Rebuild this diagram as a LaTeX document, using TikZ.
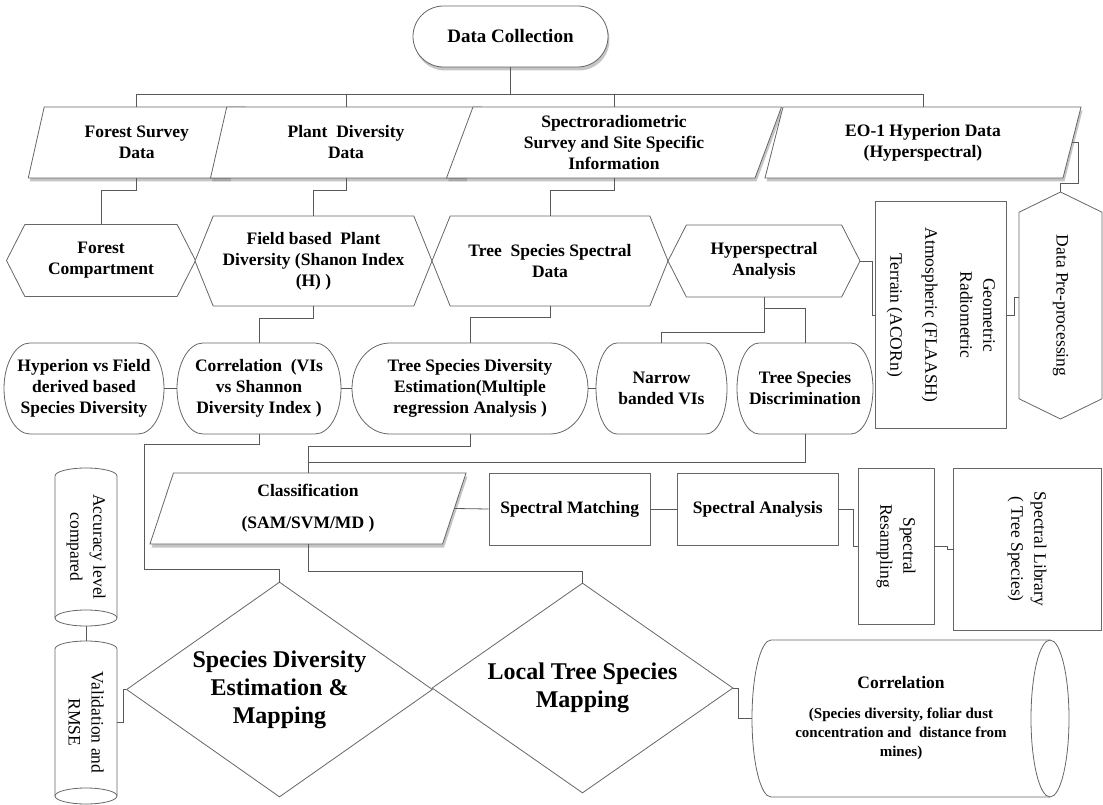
\documentclass[tikz,border=0pt]{standalone}
\usepackage{fontspec}
\setmainfont{Liberation Serif}
\usepackage{tikz}
\usetikzlibrary{calc,shapes.geometric,shapes.misc,shapes.symbols,shadows}

\begin{document}
\begin{tikzpicture}[x=1pt, y=-1pt,
      every node/.style={font=\fontsize{17.5}{21}\selectfont\bfseries, align=center, inner sep=0pt},
      vtext/.style={font=\fontsize{17.5}{23}\selectfont},
      edge/.style={draw=black!60, line width=0.8pt},
      conn/.style={draw=black!65, line width=0.8pt},
      dropshade/.style={drop shadow={shadow xshift=1.5pt, shadow yshift=-3.5pt, fill=black!45, opacity=0.5}},
      term/.style={rounded rectangle, edge, fill=white},
      para/.style={trapezium, trapezium left angle=64, trapezium right angle=116, trapezium stretches body, edge, fill=white, minimum height=71pt, dropshade},
      hexa/.style={signal, signal to=east and west, edge, fill=white},
      box/.style={rectangle, edge, fill=white},
      stad/.style={rectangle, outer sep=0pt, minimum height=91pt},
      dia/.style={diamond, aspect=1.5, edge, fill=white, font=\fontsize{24}{28}\selectfont\bfseries},
      drum/.style={rectangle, outer sep=0pt}]
      \useasboundingbox (0, 0) rectangle (1103, 805);
      \node[term, minimum width=195pt, minimum height=61pt, dropshade, font=\fontsize{19}{23}\selectfont\bfseries] (dc) at (510.5, 36.5) {Data Collection};
      \node[para, minimum width=217pt] (fsd) at (136.75, 142.5) {Forest Survey\\Data};
      \node[para, minimum width=271pt] (pdd) at (346, 142.5) {Plant~ Diversity\\Data};
      \node[para, minimum width=335pt] (ssd) at (614, 142.5) {Spectroradiometric\\Survey and Site Specific\\Information};
      \node[para, minimum width=316pt] (eod) at (923, 142.5) {EO-1 Hyperion Data\\(Hyperspectral)};
      \node[hexa, signal pointer angle=126, minimum width=189pt, minimum height=72pt] (fcp) at (101, 260.5) {Forest\\Compartment};
      \node[hexa, signal pointer angle=136, minimum width=237pt, minimum height=90pt] (fbp) at (313.5, 261) {Field based~ Plant\\Diversity (Shanon Index\\(H) )};
      \node[hexa, signal pointer angle=136, minimum width=236pt, minimum height=90pt] (tss) at (550, 261) {Tree~ Species Spectral\\Data};
      \node[hexa, signal pointer angle=126, minimum width=192pt, minimum height=72pt] (hya) at (764, 261) {Hyperspectral\\Analysis};
      \node[box, vtext, rotate=-90, minimum width=227pt, minimum height=131.5pt] (geo) at (940.75, 315) {Geometric\\Radiometric\\[12pt]Atmospheric (FLAASH)\\[12pt]Terrain (ACORn)};
      \node[hexa, signal pointer angle=128, vtext, rotate=-90, minimum width=227pt, minimum height=83pt] (dpp) at (1060.5, 305.5) {Data Pre-processing};
      \node[stad, minimum width=160pt] (hvf) at (84, 388.5) {Hyperion vs Field\\derived based\\Species Diversity};
      \node[stad, minimum width=164pt] (cvs) at (259, 388.5) {Correlation~ (VIs\\vs Shannon\\Diversity Index )};
      \node[stad, minimum width=236pt] (tsd) at (470, 388.5) {Tree Species Diversity\\Estimation(Multiple\\regression Analysis )};
      \node[stad, minimum width=131pt] (nbv) at (661.5, 388.5) {Narrow\\banded VIs};
      \node[stad, minimum width=136pt] (tsdc) at (805, 388.5) {Tree Species\\Discrimination};
      \foreach \n/\r in {hvf/26pt, cvs/26pt, tsd/38pt, nbv/21pt, tsdc/22pt}
        \draw[edge] ($(\n.north west)+(\r,0)$) -- ($(\n.north east)-(\r,0)$) arc[start angle=90, end angle=-90, x radius=\r, y radius=45.5pt] -- ($(\n.south west)+(\r,0)$) arc[start angle=270, end angle=90, x radius=\r, y radius=45.5pt] -- cycle;
      \node[para, minimum width=316pt] (cls) at (308, 508.5) {Classification\\[11pt](SAM/SVM/MD )};
      \node[box, minimum width=161.5pt, minimum height=72pt] (smt) at (569.75, 509) {Spectral Matching};
      \node[box, minimum width=161.5pt, minimum height=72pt] (san) at (757.75, 509) {Spectral Analysis};
      \node[box, vtext, rotate=-90, minimum width=156pt, minimum height=76pt] (srs) at (896, 546) {Spectral\\Resampling};
      \node[box, vtext, rotate=-90, minimum width=162pt, minimum height=148pt] (slb) at (1027, 549) {Spectral Library\\( Tree Species)};
      \node[drum, vtext, rotate=-90, minimum width=158pt, minimum height=62pt] (acc) at (86, 547) {Accuracy level\\compared};
      \node[drum, vtext, rotate=-90, minimum width=163pt, minimum height=62pt] (vrm) at (86, 722.5) {Validation and\\RMSE};
      \foreach \n in {acc, vrm} {
        \draw[edge] ($(\n.south |- \n.west)+(0, 8)$) arc[start angle=180, end angle=0, x radius=31pt, y radius=8pt] -- ($(\n.north |- \n.east)+(0, -8)$) arc[start angle=0, end angle=-180, x radius=31pt, y radius=8pt] -- cycle;
        \draw[edge] ($(\n.north |- \n.east)+(0, -8)$) arc[start angle=0, end angle=180, x radius=31pt, y radius=8pt];
      }
      \node[dia, minimum width=306pt, minimum height=215pt] (sde) at (279.5, 689.5) {Species Diversity\\Estimation \&\\Mapping};
      \node[dia, minimum width=301pt, minimum height=210pt] (ltm) at (582.5, 688) {Local Tree Species\\Mapping};
      \node[drum, font=\fontsize{15}{19}\selectfont\bfseries, minimum width=298pt, minimum height=157pt] (cor) at (901, 718.5) {{\fontsize{17.5}{21}\selectfont Correlation}\\[11pt](Species diversity, foliar dust\\concentration and~ distance from\\mines)};
      \draw[edge] ($(cor.north west)+(19, 0)$) -- (cor.north east) arc[start angle=90, end angle=-90, x radius=19pt, y radius=78.5pt] -- ($(cor.south west)+(19, 0)$) arc[start angle=270, end angle=90, x radius=19pt, y radius=78.5pt] -- cycle;
      \draw[edge] (cor.north east) arc[start angle=90, end angle=270, x radius=19pt, y radius=78.5pt];
      \draw[conn] (dc.south) -- ++(0, 27) coordinate (b1);
      \draw[conn] (fsd.north -| fsd.center) |- (b1) -| (eod.north -| eod.center);
      \draw[conn] (pdd.north -| pdd.center) -- (pdd.center |- b1);
      \draw[conn] (ssd.north -| ssd.center) -- (ssd.center |- b1);
      \draw[conn] (fsd.south -| fsd.center) -- ++(0, 12) -| (fcp.north);
      \draw[conn] (pdd.south -| pdd.center) -- ++(0, 12) -| (fbp.north);
      \draw[conn] (ssd.south -| ssd.center) -- ++(0, 12) -| (tss.north);
      \draw[conn] (eod.east) -- ++(6, 0) |- ($(dpp.west)+(0, -8)$) -- (dpp.west);
      \draw[conn] (fbp.south) -- ++(0, 12) -| (cvs.north);
      \draw[conn] (tss.south) -- ++(0, 11) -| (tsd.north);
      \draw[conn] (hya.south) -- ++(0, 11) coordinate (h1) -| (tsdc.north);
      \draw[conn] (h1) -- ++(0, 24) -| (nbv.north);
      \draw[conn] (hya.east) -- ++(12, 0) |- (geo.south);
      \draw[conn] (geo.north) -- ++(7, 0) |- ($(dpp.south)+(0, -8)$);
      \draw[conn] (hvf.east) -- (cvs.west);
      \draw[conn] (cvs.east) -- (tsd.west);
      \draw[conn] (tsd.east) -- (nbv.west);
      \draw[conn] (cvs.south) -- ++(0, 10) -| ++(-115, 125) -| (sde.north);
      \draw[conn] (tsd.south) -- ++(0, 12) -| (cls.north -| cls.center);
      \draw[conn] (tsdc.south) -- ++(0, 28) -| (cls.north -| cls.center);
      \draw[conn] (cls.east) -- (smt.west);
      \draw[conn] (smt.east) -- (san.west);
      \draw[conn] (san.east) -- ++(14, 0) |- (srs.south);
      \draw[conn] (srs.north) -- ++(13, 0) |- (slb.south);
      \draw[conn] (cls.south -| cls.center) -- ++(0, 27) -| (ltm.north);
      \draw[conn] (sde.west) -- ++(-3, 0) |- (vrm.north);
      \draw[conn] (acc.east) -- (vrm.west);
      \draw[conn] (ltm.east) -- ++(5, 0) |- (cor.west);
    \end{tikzpicture}
\end{document}
